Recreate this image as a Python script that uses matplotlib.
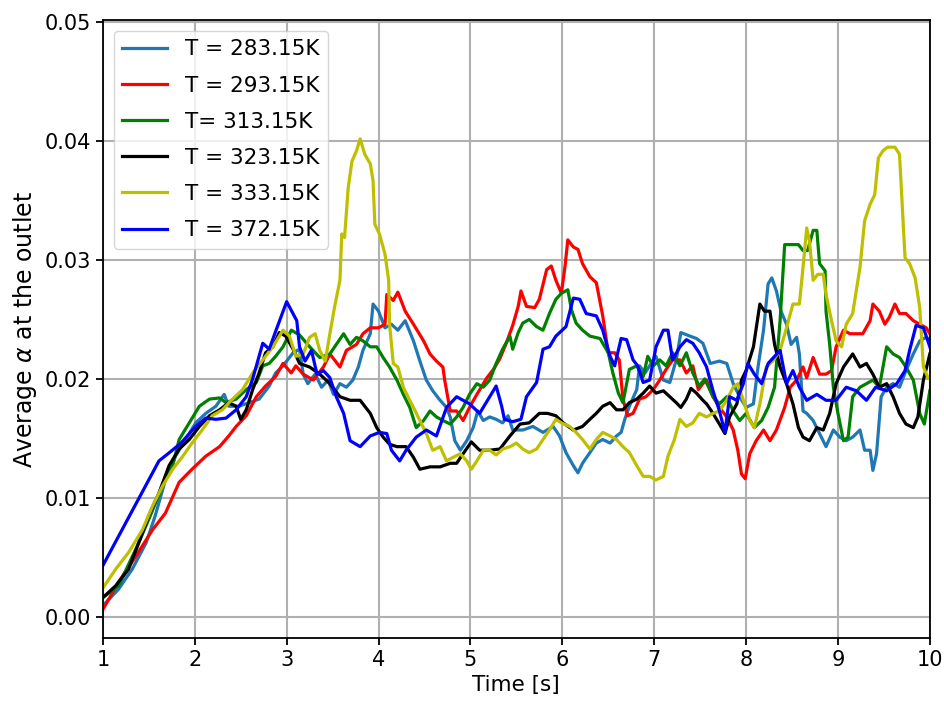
import numpy as np
import matplotlib.pyplot as plt

# values (time [s], average alpha)
t_283 = [1.01, 1.17, 1.32, 1.47, 1.57, 1.68, 1.79, 1.90, 2.01, 2.12, 2.23, 2.32, 2.37, 2.48, 2.59, 2.70, 2.81, 2.88, 2.96, 3.07,
         3.14, 3.18, 3.23, 3.31, 3.38, 3.45, 3.51, 3.58, 3.65, 3.72, 3.78, 3.83, 3.91, 3.94, 4.00, 4.07, 4.14, 4.21, 4.29, 4.38,
         4.45, 4.52, 4.59, 4.67, 4.74, 4.78, 4.83, 4.89, 4.96, 5.03, 5.08, 5.14, 5.21, 5.28, 5.35, 5.41, 5.46, 5.57, 5.68, 5.79,
         5.90, 5.97, 6.04, 6.12, 6.17, 6.22, 6.30, 6.37, 6.44, 6.52, 6.59, 6.64, 6.68, 6.73, 6.81, 6.84, 6.90, 6.95, 7.02, 7.10,
         7.17, 7.24, 7.29, 7.39, 7.46, 7.53, 7.61, 7.71, 7.79, 7.86, 7.93, 8.00, 8.08, 8.13, 8.19, 8.24, 8.28, 8.33, 8.38, 8.44,
         8.49, 8.55, 8.58, 8.62, 8.66, 8.73, 8.80, 8.87, 8.95, 9.02, 9.09, 9.16, 9.24, 9.29, 9.35, 9.38, 9.42, 9.47, 9.53, 9.60,
         9.67, 9.74, 9.82, 9.89, 9.96, 10.0]
a_283 = [0.0010, 0.0023, 0.0040, 0.0062, 0.0085, 0.0115, 0.0135, 0.0149, 0.0163, 0.0171, 0.0177, 0.0187, 0.0177, 0.0177, 0.0180, 0.0183, 0.0194, 0.0205, 0.0211, 0.0222,
         0.0225, 0.0204, 0.0196, 0.0204, 0.0193, 0.0199, 0.0187, 0.0196, 0.0193, 0.0199, 0.0210, 0.0224, 0.0238, 0.0263, 0.0257, 0.0243, 0.0246, 0.0241, 0.0249, 0.0232,
         0.0215, 0.0199, 0.0190, 0.0182, 0.0176, 0.0168, 0.0148, 0.0140, 0.0148, 0.0159, 0.0173, 0.0165, 0.0168, 0.0166, 0.0163, 0.0169, 0.0157, 0.0157, 0.0160, 0.0155,
         0.0160, 0.0152, 0.0138, 0.0127, 0.0121, 0.0129, 0.0138, 0.0146, 0.0149, 0.0146, 0.0152, 0.0155, 0.0166, 0.0177, 0.0191, 0.0211, 0.0205, 0.0211, 0.0219, 0.0199,
         0.0197, 0.0216, 0.0239, 0.0236, 0.0234, 0.0230, 0.0213, 0.0215, 0.0213, 0.0196, 0.0185, 0.0176, 0.0179, 0.0210, 0.0241, 0.0280, 0.0285, 0.0274, 0.0257, 0.0246,
         0.0229, 0.0235, 0.0221, 0.0173, 0.0171, 0.0165, 0.0154, 0.0143, 0.0157, 0.0151, 0.0148, 0.0151, 0.0157, 0.0140, 0.0140, 0.0123, 0.0137, 0.0185, 0.0193, 0.0196,
         0.0193, 0.0207, 0.0221, 0.0232, 0.0235, 0.0233]

t_293 = [1.00, 1.17, 1.36, 1.54, 1.68, 1.83, 1.97, 2.12, 2.27, 2.37, 2.45, 2.56, 2.67, 2.77, 2.88, 2.96, 3.05, 3.10, 3.18, 3.29,
         3.40, 3.47, 3.58, 3.65, 3.76, 3.83, 3.91, 4.00, 4.07, 4.09, 4.16, 4.21, 4.29, 4.38, 4.49, 4.56, 4.63, 4.70, 4.72, 4.78,
         4.85, 4.92, 4.99, 5.07, 5.18, 5.25, 5.32, 5.39, 5.46, 5.52, 5.55, 5.61, 5.70, 5.75, 5.83, 5.88, 5.93, 5.99, 6.03, 6.06,
         6.12, 6.17, 6.22, 6.30, 6.37, 6.44, 6.50, 6.57, 6.62, 6.66, 6.71, 6.77, 6.84, 6.91, 6.99, 7.06, 7.13, 7.20, 7.28, 7.35,
         7.42, 7.48, 7.53, 7.57, 7.64, 7.71, 7.79, 7.86, 7.91, 7.95, 7.99, 8.04, 8.11, 8.19, 8.26, 8.33, 8.42, 8.48, 8.55, 8.62,
         8.66, 8.73, 8.80, 8.87, 8.93, 8.98, 9.06, 9.13, 9.20, 9.27, 9.35, 9.38, 9.45, 9.51, 9.56, 9.62, 9.67, 9.74, 9.82, 9.89,
         9.96, 10.0]
a_293 = [0.0006, 0.0029, 0.0051, 0.0073, 0.0087, 0.0113, 0.0124, 0.0135, 0.0143, 0.0152, 0.0160, 0.0169, 0.0185, 0.0194, 0.0202, 0.0213, 0.0205, 0.0211, 0.0204, 0.0199,
         0.0210, 0.0221, 0.0210, 0.0224, 0.0229, 0.0238, 0.0243, 0.0243, 0.0246, 0.0271, 0.0266, 0.0273, 0.0257, 0.0246, 0.0232, 0.0221, 0.0215, 0.0210, 0.0199, 0.0173,
         0.0173, 0.0165, 0.0176, 0.0187, 0.0201, 0.0208, 0.0217, 0.0230, 0.0245, 0.0261, 0.0274, 0.0261, 0.0260, 0.0267, 0.0292, 0.0295, 0.0283, 0.0272, 0.0295, 0.0317,
         0.0311, 0.0309, 0.0297, 0.0286, 0.0281, 0.0253, 0.0222, 0.0222, 0.0216, 0.0183, 0.0169, 0.0171, 0.0183, 0.0185, 0.0191, 0.0199, 0.0208, 0.0216, 0.0216, 0.0205,
         0.0211, 0.0191, 0.0196, 0.0199, 0.0185, 0.0176, 0.0168, 0.0157, 0.0140, 0.0120, 0.0116, 0.0137, 0.0148, 0.0157, 0.0148, 0.0157, 0.0176, 0.0193, 0.0199, 0.0210,
         0.0201, 0.0218, 0.0204, 0.0204, 0.0207, 0.0227, 0.0241, 0.0238, 0.0238, 0.0238, 0.0249, 0.0263, 0.0257, 0.0246, 0.0252, 0.0263, 0.0255, 0.0255, 0.0249, 0.0246,
         0.0243, 0.0238]

t_313 = [1.00, 1.17, 1.36, 1.50, 1.65, 1.76, 1.83, 1.94, 2.05, 2.16, 2.27, 2.34, 2.45, 2.56, 2.67, 2.74, 2.81, 2.88, 2.96, 3.05,
         3.14, 3.25, 3.36, 3.47, 3.54, 3.62, 3.69, 3.76, 3.83, 3.91, 3.98, 4.05, 4.12, 4.20, 4.27, 4.34, 4.41, 4.49, 4.56, 4.63,
         4.70, 4.78, 4.85, 4.92, 4.99, 5.07, 5.14, 5.21, 5.28, 5.35, 5.43, 5.46, 5.52, 5.57, 5.64, 5.72, 5.79, 5.86, 5.93, 5.99,
         6.06, 6.10, 6.15, 6.22, 6.30, 6.41, 6.50, 6.55, 6.61, 6.66, 6.73, 6.81, 6.88, 6.93, 6.99, 7.06, 7.13, 7.20, 7.28, 7.35,
         7.42, 7.49, 7.55, 7.64, 7.71, 7.79, 7.86, 7.93, 8.00, 8.09, 8.17, 8.24, 8.31, 8.37, 8.42, 8.49, 8.57, 8.62, 8.67, 8.73,
         8.77, 8.80, 8.86, 8.87, 8.91, 8.95, 9.00, 9.06, 9.11, 9.16, 9.24, 9.31, 9.38, 9.45, 9.53, 9.60, 9.67, 9.74, 9.82, 9.89,
         9.94, 10.0]
a_313 = [0.0016, 0.0026, 0.0057, 0.0082, 0.0110, 0.0127, 0.0149, 0.0163, 0.0177, 0.0183, 0.0184, 0.0180, 0.0183, 0.0191, 0.0197, 0.0211, 0.0213, 0.0219, 0.0227, 0.0241,
         0.0237, 0.0227, 0.0218, 0.0221, 0.0229, 0.0238, 0.0229, 0.0235, 0.0232, 0.0227, 0.0227, 0.0218, 0.0210, 0.0199, 0.0187, 0.0176, 0.0159, 0.0165, 0.0173, 0.0168,
         0.0165, 0.0162, 0.0168, 0.0176, 0.0187, 0.0196, 0.0193, 0.0199, 0.0213, 0.0225, 0.0236, 0.0225, 0.0239, 0.0247, 0.0250, 0.0244, 0.0241, 0.0255, 0.0267, 0.0272,
         0.0275, 0.0258, 0.0247, 0.0241, 0.0236, 0.0234, 0.0222, 0.0205, 0.0188, 0.0180, 0.0208, 0.0211, 0.0202, 0.0219, 0.0211, 0.0216, 0.0211, 0.0222, 0.0211, 0.0222,
         0.0205, 0.0194, 0.0200, 0.0185, 0.0179, 0.0185, 0.0173, 0.0165, 0.0171, 0.0159, 0.0165, 0.0176, 0.0193, 0.0249, 0.0313, 0.0313, 0.0313, 0.0308, 0.0308, 0.0325,
         0.0325, 0.0297, 0.0291, 0.0257, 0.0229, 0.0193, 0.0171, 0.0148, 0.0151, 0.0185, 0.0193, 0.0196, 0.0199, 0.0193, 0.0227, 0.0221, 0.0218, 0.0210, 0.0199, 0.0171,
         0.0162, 0.0190]

t_323 = [1.00, 1.14, 1.28, 1.39, 1.50, 1.61, 1.72, 1.83, 1.94, 2.05, 2.16, 2.27, 2.37, 2.45, 2.50, 2.56, 2.63, 2.70, 2.77, 2.85,
         2.92, 2.99, 3.07, 3.14, 3.25, 3.36, 3.47, 3.58, 3.69, 3.80, 3.91, 3.98, 4.05, 4.12, 4.20, 4.30, 4.38, 4.45, 4.56, 4.67,
         4.78, 4.85, 4.92, 5.01, 5.10, 5.21, 5.32, 5.43, 5.54, 5.64, 5.75, 5.84, 5.93, 6.01, 6.12, 6.22, 6.30, 6.37, 6.44, 6.52,
         6.59, 6.66, 6.73, 6.81, 6.88, 6.95, 7.02, 7.10, 7.17, 7.24, 7.29, 7.35, 7.40, 7.46, 7.53, 7.57, 7.64, 7.71, 7.77, 7.82,
         7.90, 7.95, 8.00, 8.08, 8.15, 8.20, 8.26, 8.31, 8.37, 8.44, 8.51, 8.57, 8.62, 8.69, 8.77, 8.84, 8.91, 8.98, 9.06, 9.16,
         9.24, 9.31, 9.38, 9.45, 9.53, 9.60, 9.67, 9.74, 9.82, 9.87, 9.93, 10.0]
a_323 = [0.0016, 0.0026, 0.0040, 0.0062, 0.0085, 0.0104, 0.0127, 0.0141, 0.0149, 0.0160, 0.0169, 0.0174, 0.0180, 0.0177, 0.0166, 0.0174, 0.0191, 0.0205, 0.0222, 0.0227,
         0.0239, 0.0236, 0.0225, 0.0213, 0.0210, 0.0204, 0.0196, 0.0185, 0.0182, 0.0182, 0.0171, 0.0159, 0.0151, 0.0145, 0.0143, 0.0143, 0.0134, 0.0124, 0.0126, 0.0126,
         0.0129, 0.0129, 0.0137, 0.0147, 0.0140, 0.0140, 0.0141, 0.0152, 0.0162, 0.0163, 0.0171, 0.0171, 0.0169, 0.0163, 0.0157, 0.0160, 0.0166, 0.0171, 0.0177, 0.0180,
         0.0174, 0.0174, 0.0180, 0.0183, 0.0188, 0.0194, 0.0188, 0.0190, 0.0185, 0.0180, 0.0176, 0.0183, 0.0192, 0.0188, 0.0182, 0.0179, 0.0171, 0.0162, 0.0154, 0.0168,
         0.0179, 0.0199, 0.0207, 0.0227, 0.0263, 0.0257, 0.0257, 0.0229, 0.0210, 0.0196, 0.0179, 0.0159, 0.0151, 0.0148, 0.0159, 0.0157, 0.0171, 0.0196, 0.0210, 0.0221,
         0.0210, 0.0213, 0.0204, 0.0193, 0.0196, 0.0185, 0.0171, 0.0162, 0.0159, 0.0168, 0.0199, 0.0221]

t_333 = [1.00, 1.14, 1.28, 1.43, 1.54, 1.65, 1.76, 1.87, 1.97, 2.08, 2.19, 2.30, 2.41, 2.52, 2.63, 2.74, 2.85, 2.96, 3.03, 3.10,
         3.18, 3.25, 3.31, 3.36, 3.42, 3.47, 3.52, 3.58, 3.60, 3.63, 3.67, 3.71, 3.76, 3.80, 3.85, 3.91, 3.94, 3.96, 4.01, 4.07,
         4.11, 4.12, 4.16, 4.21, 4.27, 4.32, 4.38, 4.45, 4.52, 4.59, 4.67, 4.74, 4.81, 4.89, 4.96, 5.01, 5.07, 5.14, 5.21, 5.28,
         5.35, 5.43, 5.50, 5.57, 5.64, 5.72, 5.79, 5.86, 5.93, 5.99, 6.08, 6.15, 6.22, 6.30, 6.37, 6.44, 6.52, 6.59, 6.66, 6.73,
         6.81, 6.88, 6.95, 7.02, 7.10, 7.15, 7.22, 7.28, 7.35, 7.42, 7.49, 7.57, 7.64, 7.71, 7.79, 7.86, 7.91, 7.97, 8.04, 8.09,
         8.15, 8.22, 8.29, 8.37, 8.44, 8.51, 8.58, 8.62, 8.66, 8.69, 8.73, 8.78, 8.84, 8.87, 8.93, 8.98, 9.04, 9.09, 9.16, 9.24,
         9.29, 9.35, 9.40, 9.44, 9.49, 9.54, 9.62, 9.67, 9.73, 9.78, 9.84, 9.89, 9.93, 9.98]
a_333 = [0.0024, 0.0040, 0.0054, 0.0073, 0.0093, 0.0110, 0.0124, 0.0135, 0.0146, 0.0157, 0.0169, 0.0174, 0.0183, 0.0191, 0.0205, 0.0216, 0.0227, 0.0241, 0.0236, 0.0219,
         0.0221, 0.0235, 0.0238, 0.0224, 0.0215, 0.0238, 0.0260, 0.0283, 0.0322, 0.0319, 0.0361, 0.0383, 0.0392, 0.0402, 0.0389, 0.0381, 0.0367, 0.0330, 0.0322, 0.0305,
         0.0283, 0.0246, 0.0213, 0.0210, 0.0193, 0.0185, 0.0176, 0.0165, 0.0154, 0.0140, 0.0143, 0.0131, 0.0134, 0.0137, 0.0131, 0.0124, 0.0131, 0.0140, 0.0140, 0.0136,
         0.0141, 0.0143, 0.0146, 0.0141, 0.0138, 0.0141, 0.0149, 0.0157, 0.0166, 0.0163, 0.0160, 0.0155, 0.0149, 0.0141, 0.0149, 0.0155, 0.0152, 0.0149, 0.0143, 0.0138,
         0.0127, 0.0118, 0.0118, 0.0115, 0.0118, 0.0135, 0.0149, 0.0166, 0.0160, 0.0163, 0.0171, 0.0168, 0.0171, 0.0173, 0.0182, 0.0193, 0.0196, 0.0182, 0.0165, 0.0159,
         0.0179, 0.0210, 0.0215, 0.0224, 0.0243, 0.0263, 0.0263, 0.0294, 0.0327, 0.0316, 0.0283, 0.0288, 0.0288, 0.0271, 0.0249, 0.0232, 0.0227, 0.0246, 0.0255, 0.0294,
         0.0333, 0.0347, 0.0355, 0.0386, 0.0392, 0.0395, 0.0395, 0.0389, 0.0302, 0.0297, 0.0285, 0.0260, 0.0210, 0.0201]

t_372 = [1.00, 1.61, 1.74, 1.85, 2.01, 2.12, 2.23, 2.34, 2.45, 2.56, 2.63, 2.74, 2.81, 2.88, 3.00, 3.11, 3.14, 3.20, 3.27, 3.33,
         3.40, 3.47, 3.54, 3.62, 3.69, 3.80, 3.91, 4.01, 4.09, 4.14, 4.23, 4.30, 4.41, 4.52, 4.63, 4.74, 4.85, 4.99, 5.10, 5.21,
         5.28, 5.34, 5.37, 5.46, 5.55, 5.61, 5.72, 5.79, 5.86, 5.93, 6.04, 6.12, 6.19, 6.26, 6.37, 6.44, 6.52, 6.57, 6.64, 6.70,
         6.77, 6.82, 6.88, 6.95, 7.02, 7.10, 7.15, 7.20, 7.28, 7.35, 7.42, 7.49, 7.57, 7.64, 7.71, 7.77, 7.82, 7.90, 7.97, 8.02,
         8.09, 8.17, 8.24, 8.37, 8.44, 8.51, 8.58, 8.66, 8.77, 8.87, 8.98, 9.09, 9.20, 9.31, 9.41, 9.53, 9.64, 9.73, 9.78, 9.85,
         9.93, 10.0]
a_372 = [0.0043, 0.0131, 0.0139, 0.0146, 0.0160, 0.0167, 0.0166, 0.0167, 0.0174, 0.0185, 0.0200, 0.0230, 0.0225, 0.0240, 0.0265, 0.0249, 0.0227, 0.0215, 0.0224, 0.0204,
         0.0207, 0.0201, 0.0185, 0.0171, 0.0148, 0.0143, 0.0152, 0.0155, 0.0154, 0.0140, 0.0131, 0.0140, 0.0151, 0.0157, 0.0152, 0.0176, 0.0185, 0.0179, 0.0171, 0.0185,
         0.0194, 0.0177, 0.0166, 0.0164, 0.0166, 0.0185, 0.0197, 0.0225, 0.0227, 0.0236, 0.0244, 0.0268, 0.0267, 0.0255, 0.0253, 0.0241, 0.0219, 0.0211, 0.0234, 0.0233,
         0.0216, 0.0211, 0.0197, 0.0199, 0.0227, 0.0241, 0.0241, 0.0216, 0.0227, 0.0233, 0.0230, 0.0222, 0.0210, 0.0190, 0.0173, 0.0155, 0.0185, 0.0182, 0.0196, 0.0213,
         0.0204, 0.0196, 0.0213, 0.0224, 0.0196, 0.0207, 0.0193, 0.0182, 0.0187, 0.0182, 0.0182, 0.0193, 0.0190, 0.0182, 0.0193, 0.0190, 0.0196, 0.0207, 0.0224, 0.0245,
         0.0243, 0.0227]

labels = ['T = 283.15K', 'T = 293.15K', 'T= 313.15K', 'T = 323.15K', 'T = 333.15K', 'T = 372.15K']
colors = ['#1f77b4', 'r', 'g', 'k', 'y', 'b']

series = [(t_283, a_283), (t_293, a_293), (t_313, a_313), (t_323, a_323), (t_333, a_333), (t_372, a_372)]

fig = plt.figure(figsize=(9.44, 7.02), dpi=100)
ax = fig.add_axes([0.109, 0.0912, 0.876, 0.8803])

for (t, a), lab, c in zip(series, labels, colors):
    ax.plot(t, a, color=c, lw=2.3, label=lab)

ax.set_xlim(1, 10)
ax.set_ylim(-0.0018, 0.0502)
ax.set_xticks(range(1, 11))
ax.set_yticks(np.arange(0, 0.051, 0.01))
ax.yaxis.set_major_formatter(plt.FormatStrFormatter('%.2f'))
ax.tick_params(labelsize=15, width=1.3, length=5)
ax.grid(True, color='#b0b0b0', lw=1.5)
for s in ax.spines.values():
    s.set_linewidth(1.3)

ax.set_xlabel('Time [s]', fontsize=15.5)
ax.set_ylabel(r'Average $\alpha$ at the outlet', fontsize=17)
ax.legend(loc='upper left', fontsize=15.5, handlelength=2.1, labelspacing=0.75, framealpha=0.8)

fig.savefig('out.png', dpi=100)
